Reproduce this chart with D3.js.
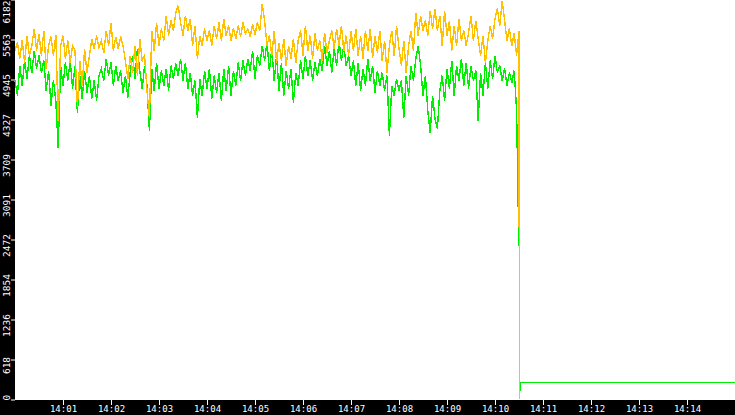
<!DOCTYPE html>
<html>
<head>
<meta charset="utf-8">
<script src="https://cdn.jsdelivr.net/npm/d3@7"></script>
<style>
  html, body { margin: 0; padding: 0; background: #000; }
  svg { display: block; }
</style>
</head>
<body>
<div id="chart"></div>
<script>
// sampled every 3 s from 14:00:00
const startTime = new Date(2024, 0, 1, 14, 0, 0);
const stepSeconds = 3;

const orangeValues = [
  5392, 5516, 5268, 5547, 5207, 5624, 5315, 5469, 5732, 5392,
  5655, 5315, 5701, 5114, 5469, 5608, 5315, 5639, 4311, 5469,
  5624, 5268, 5547, 5207, 5469, 5392, 4527, 5238, 4851, 5423,
  5052, 5315, 5577, 5423, 5624, 5438, 5547, 5361, 5701, 5469,
  5825, 5392, 5608, 5423, 5608, 5469, 5238, 4959, 5315, 5052,
  5469, 5006, 5577, 5238, 5315, 4774, 4357, 5701, 5392, 5825,
  5469, 5732, 5547, 5933, 5624, 5856, 5701, 5979, 6087, 5825,
  5624, 5933, 5701, 5886, 5469, 5778, 5268, 5624, 5469, 5732,
  5547, 5701, 5469, 5778, 5577, 5825, 5547, 5886, 5624, 5778,
  5547, 5732, 5577, 5778, 5608, 5825, 5655, 5732, 5608, 5794,
  5639, 5825, 5701, 6118, 5856, 5469, 5624, 5315, 5701, 5207,
  5516, 5238, 5577, 5160, 5469, 5268, 5577, 5207, 5547, 5701,
  5315, 5778, 5392, 5624, 5268, 5670, 5392, 5547, 5238, 5670,
  5361, 5547, 5701, 5423, 5732, 5469, 5778, 5392, 5624, 5315,
  5701, 5392, 5732, 5315, 5624, 5268, 5701, 5392, 5732, 5284,
  5624, 5361, 5701, 5238, 5547, 5052, 5469, 5701, 5315, 5778,
  5423, 5160, 5547, 5052, 5469, 5701, 5392, 5979, 5624, 5933,
  5701, 5856, 5624, 6010, 5732, 6041, 5701, 5933, 5469, 6010,
  5624, 5856, 5392, 5778, 5469, 5886, 5547, 5701, 5469, 5670,
  5933, 5547, 5856, 5577, 5315, 5624, 5207, 5547, 5778, 5577,
  5886, 6041, 5778, 6165, 5856, 5547, 5732, 5469, 5655, 5315,
  5701
];

const greenValues = [
  4929, 4697, 5160, 4851, 5238, 4959, 5315, 5052, 5392, 5114,
  5315, 5052, 5238, 4774, 5083, 4542, 4929, 4620, 3893, 5160,
  4851, 5207, 4929, 5238, 4805, 5160, 4434, 5006, 4651, 5083,
  4743, 5006, 4651, 4929, 4620, 5006, 5114, 4929, 5268, 5006,
  5207, 4851, 5160, 4929, 5083, 4743, 5006, 4666, 5052, 5315,
  4959, 5423, 5083, 4805, 5160, 4851, 4156, 5114, 4774, 5207,
  4805, 5083, 4851, 5114, 4774, 5160, 4959, 5191, 5006, 5268,
  4929, 5207, 4805, 5052, 4697, 4929, 4357, 4959, 4697, 5083,
  4805, 5114, 4651, 5006, 4743, 5052, 4620, 5114, 4774, 5160,
  4697, 5083, 4851, 5207, 4929, 5238, 5006, 5268, 5083, 5392,
  4959, 5315, 5160, 5469, 5238, 5516, 5083, 5423, 4929, 5315,
  4774, 5207, 4697, 5083, 4805, 5114, 4589, 5052, 4851, 5238,
  4959, 5315, 5006, 5238, 4929, 5207, 5006, 5268, 5083, 5469,
  5160, 5392, 5052, 5423, 5160, 5547, 5238, 5469, 5160, 5315,
  5006, 5238, 4851, 5207, 4774, 5114, 4851, 5268, 4929, 5160,
  4743, 5083, 4851, 5052, 4774, 5006, 4079, 4851, 4697, 4959,
  4774, 4929, 4357, 5006, 4697, 5160, 4929, 5268, 5469, 5160,
  4697, 5006, 4465, 4125, 4697, 4341, 4187, 4774, 5006, 4620,
  5114, 4805, 5238, 4697, 5160, 4929, 5268, 4851, 5207, 4805,
  5160, 4929, 5083, 4311, 5052, 4697, 5207, 4805, 5238, 4959,
  5315, 5052, 5160, 4929, 5114, 4851, 5052, 4898, 5083, 4465,
  4233
];

// after the drop: seconds after 14:00:00 and values
const orangeTailSeconds = [630.5];
const orangeTailValues = [0];
const greenTailSeconds = [629.2, 629.4, 630.5, 631, 632, 900];
const greenTailValues = [2843, 2379, 2300, 130, 263, 263];

const yMax = 6182;
const yTickValues = [0, 618.2, 1236.4, 1854.6, 2472.8, 3091, 3709.2, 4327.4, 4945.6, 5563.8, 6182];
const xTickMinutes = [1, 2, 3, 4, 5, 6, 7, 8, 9, 10, 11, 12, 13, 14];

const width = 735, height = 415;
const plotLeft = 15, plotBottom = 400;
const fontFamily = "'DejaVu Sans Mono', monospace";

const atSeconds = s => new Date(startTime.getTime() + s * 1000);

const toSeries = (values, tailSec, tailVal) =>
  values.map((v, i) => ({ t: atSeconds(i * stepSeconds), v }))
    .concat(tailSec.map((s, i) => ({ t: atSeconds(s), v: tailVal[i] })));

const orange = toSeries(orangeValues, orangeTailSeconds, orangeTailValues);
// green's last regular sample comes after the short drop segment, so sort by time
const green = toSeries(greenValues.slice(0, -1), greenTailSeconds, greenTailValues)
  .concat([{ t: atSeconds((greenValues.length - 1) * stepSeconds), v: greenValues[greenValues.length - 1] }])
  .sort((a, b) => a.t - b.t);

const svg = d3.select("#chart").append("svg")
  .attr("width", width)
  .attr("height", height);

svg.append("rect")
  .attr("width", width).attr("height", height)
  .attr("fill", "#000");

svg.append("rect")
  .attr("x", plotLeft).attr("y", 0)
  .attr("width", width - plotLeft).attr("height", plotBottom)
  .attr("fill", "#fff");

const x = d3.scaleTime()
  .domain([startTime, atSeconds(900)])
  .range([plotLeft, width]);

const y = d3.scaleLinear()
  .domain([0, yMax])
  .range([plotBottom - 0.5, -0.5]);

const line = d3.line()
  .x(d => x(d.t))
  .y(d => y(d.v));

svg.append("path")
  .datum(green)
  .attr("fill", "none")
  .attr("stroke", "#00ee00")
  .attr("stroke-width", 1.4)
  .attr("shape-rendering", "crispEdges")
  .attr("d", line);

svg.append("path")
  .datum(orange)
  .attr("fill", "none")
  .attr("stroke", "#ffc000")
  .attr("stroke-width", 1.4)
  .attr("shape-rendering", "crispEdges")
  .attr("d", line);

// x axis
const xAxis = svg.append("g")
  .attr("transform", `translate(0,${plotBottom})`)
  .call(d3.axisBottom(x)
    .tickValues(xTickMinutes.map(m => atSeconds(m * 60)))
    .tickSize(5)
    .tickFormat(d3.timeFormat("%H:%M")));

xAxis.select(".domain").remove();
xAxis.selectAll("line").attr("stroke", "#fff");
xAxis.selectAll("text")
  .attr("fill", "#fff")
  .attr("font-family", fontFamily)
  .attr("font-size", "9px")
  .attr("dy", 0)
  .attr("y", 12.3);

// y axis, labels turned on their side
const yAxis = svg.append("g")
  .attr("transform", `translate(${plotLeft},0)`)
  .call(d3.axisLeft(y)
    .tickValues(yTickValues)
    .tickSize(4)
    .tickFormat(d => Math.floor(d)));

yAxis.select(".domain").remove();
yAxis.selectAll("line").attr("stroke", "#fff");
yAxis.selectAll("text")
  .attr("fill", "#fff")
  .attr("font-family", fontFamily)
  .attr("font-size", "9.5px")
  .attr("text-anchor", "middle")
  .attr("dy", 0)
  .attr("transform", "rotate(-90)")
  .each(function (d) {
    const w = this.getComputedTextLength();
    const ty = y(d);
    const centre = Math.max(w / 2, Math.min(plotBottom - w / 2, ty + 5.5));
    d3.select(this)
      .attr("x", -(centre - ty))
      .attr("y", -5.5);
  });
</script>
</body>
</html>
